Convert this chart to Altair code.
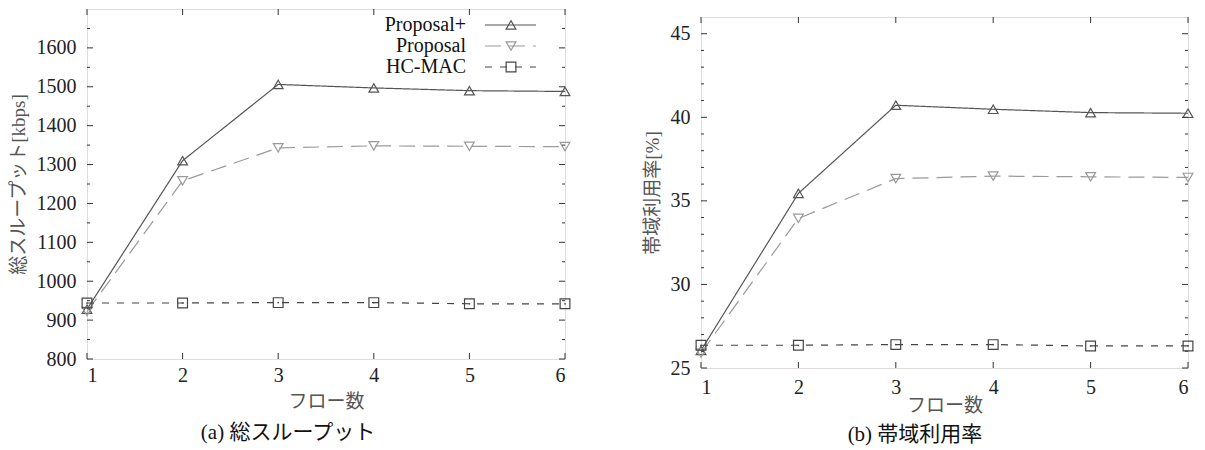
import altair as alt
import pandas as pd

flows = [1, 2, 3, 4, 5, 6]
series = ["Proposal+", "Proposal", "HC-MAC"]

thr_plus = [928, 1310, 1506, 1497, 1490, 1488]
thr_prop = [922, 1258, 1343, 1348, 1347, 1346]
thr_hc = [944, 944, 945, 945, 942, 942]

util_plus = [26.05, 35.45, 40.72, 40.48, 40.28, 40.24]
util_prop = [25.9, 33.95, 36.33, 36.48, 36.44, 36.4]
util_hc = [26.36, 26.36, 26.4, 26.4, 26.32, 26.32]

thr_major = [800, 900, 1000, 1100, 1200, 1300, 1400, 1500, 1600]
thr_minor = [850, 950, 1050, 1150, 1250, 1350, 1450, 1550, 1650]
util_major = [25, 30, 35, 40, 45]
util_minor = [26, 27, 28, 29, 31, 32, 33, 34, 36, 37, 38, 39, 41, 42, 43, 44]

colors = ["#555555", "#9a9a9a", "#444444"]
dashes = [[1, 0], [16, 8], [7, 8]]
shapes = ["triangle-up", "triangle-down", "square"]

SERIF = "Liberation Serif"
JP = "Liberation Serif, Noto Sans CJK JP"


def make_df(vals):
    rows = []
    for s, v in zip(series, vals):
        for f, y in zip(flows, v):
            rows.append({"flow": f, "value": y, "series": s})
    return pd.DataFrame(rows)


def panel(vals, ydomain, major, minor, ytitle, caption, w, h, ytitle_pad,
          legend=False, xlabel_pad=10, xtitle_pad=4, cap_x=0, cap_y=75):
    df = make_df(vals)
    base = alt.Chart(df)
    xs = alt.Scale(domain=[1, 6], nice=False, zero=False)
    ys = alt.Scale(domain=ydomain, nice=False, zero=False)
    x = alt.X("flow:Q", scale=xs,
              axis=alt.Axis(values=flows, title="フロー数", format="d",
                            domain=False, ticks=False, grid=False,
                            labelFont=SERIF, labelFontSize=20, labelColor="#222",
                            labelPadding=xlabel_pad, titleFont=JP, titleFontSize=19,
                            titleFontWeight="normal", titleColor="#555",
                            titlePadding=xtitle_pad))
    y = alt.Y("value:Q", scale=ys,
              axis=alt.Axis(values=major, title=ytitle, format="d",
                            domain=False, ticks=False, grid=False,
                            labelFont=SERIF, labelFontSize=20, labelColor="#222",
                            labelPadding=11, titleFont=JP, titleFontSize=19,
                            titleFontWeight="normal", titleColor="#555",
                            titlePadding=ytitle_pad))
    color = alt.Color("series:N", scale=alt.Scale(domain=series, range=colors), legend=None)
    dash = alt.StrokeDash("series:N", scale=alt.Scale(domain=series, range=dashes), legend=None)
    shape = alt.Shape("series:N", scale=alt.Scale(domain=series, range=shapes), legend=None)

    lines = base.mark_line(strokeWidth=1.2).encode(x=x, y=y, color=color, strokeDash=dash)
    pts = base.mark_point(filled=False, size=95, strokeWidth=1.2, opacity=1).encode(
        x=x, y=y, color=color, shape=shape)
    dots = base.transform_filter(alt.datum.series == "HC-MAC").mark_point(
        filled=True, size=3, shape="circle", opacity=1).encode(
        x=x, y=y, color=alt.value("#444"))

    tick_color = "#333"
    maj = pd.DataFrame({"value": major})
    mnr = pd.DataFrame({"value": minor})
    xt = pd.DataFrame({"flow": flows})
    ticks = [
        alt.Chart(maj).mark_rule(color=tick_color, strokeWidth=1).encode(
            y=y, x=alt.value(0), x2=alt.value(6)),
        alt.Chart(maj).mark_rule(color=tick_color, strokeWidth=1).encode(
            y=y, x=alt.value(w - 6), x2=alt.value(w)),
        alt.Chart(mnr).mark_rule(color=tick_color, strokeWidth=1).encode(
            y=y, x=alt.value(0), x2=alt.value(3)),
        alt.Chart(mnr).mark_rule(color=tick_color, strokeWidth=1).encode(
            y=y, x=alt.value(w - 3), x2=alt.value(w)),
        alt.Chart(xt).mark_rule(color=tick_color, strokeWidth=1).encode(
            x=x, y=alt.value(h), y2=alt.value(h - 6)),
        alt.Chart(xt).mark_rule(color=tick_color, strokeWidth=1).encode(
            x=x, y=alt.value(0), y2=alt.value(6)),
    ]

    cap = alt.Chart(pd.DataFrame({"t": [caption]})).mark_text(
        font=JP, fontSize=21, color="#111", align="center", baseline="middle").encode(
        text="t:N", x=alt.value(cap_x), y=alt.value(h + cap_y))

    layers = [lines, pts, dots] + ticks + [cap]

    if legend:
        ly = [16, 37, 58]
        for s, c, d, sh, yy in zip(series, colors, dashes, shapes, ly):
            ldf = pd.DataFrame({"series": [s]})
            lb = alt.Chart(ldf)
            layers.append(lb.mark_text(font=SERIF, fontSize=20, color="#111",
                                       align="right", baseline="middle").encode(
                text="series:N", x=alt.value(379), y=alt.value(yy)))
            layers.append(lb.mark_rule(color=c, strokeWidth=1.2, strokeDash=d).encode(
                x=alt.value(398), x2=alt.value(449), y=alt.value(yy)))
            layers.append(lb.mark_point(shape=sh, filled=False, size=95, strokeWidth=1.2,
                                        color=c, opacity=1).encode(
                x=alt.value(424), y=alt.value(yy)))

    return alt.layer(*layers).properties(width=w, height=h)


left = panel([thr_plus, thr_prop, thr_hc], [800, 1700], thr_major, thr_minor,
             "総スループット[kbps]", "(a) 総スループット", 478, 350, 8,
             legend=True, xlabel_pad=6, xtitle_pad=7, cap_x=201, cap_y=74)
right = panel([util_plus, util_prop, util_hc], [25, 46], util_major, util_minor,
              "帯域利用率[%]", "(b) 帯域利用率", 487, 351, 8,
              xlabel_pad=9, xtitle_pad=-1, cap_x=214, cap_y=67)

spacer = alt.Chart(pd.DataFrame({"t": [""]})).mark_rule(strokeOpacity=0).encode(
    x=alt.value(0), y=alt.value(0), y2=alt.value(7)
).properties(width=487, height=7, view=alt.ViewBackground(strokeOpacity=0))

right_col = alt.vconcat(spacer, right, spacing=0)

chart = alt.hconcat(left, right_col, spacing=69).properties(
    padding={"left": 0, "top": 0, "right": 0, "bottom": 0}
).configure_view(stroke="#333", strokeWidth=1.5).configure(background="white")

chart.save("out.html", embed_options={"renderer": "svg", "actions": False})
